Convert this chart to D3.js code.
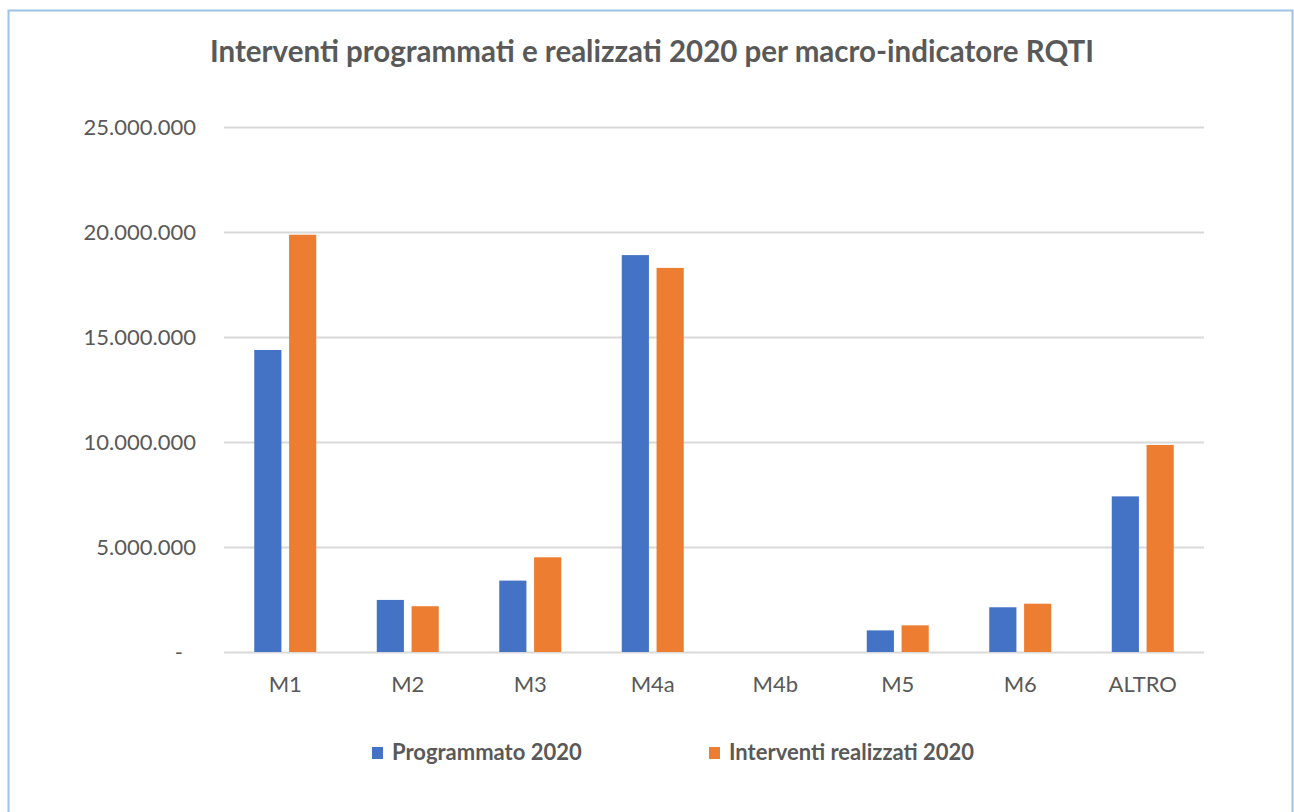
<!DOCTYPE html>
<html>
<head>
<meta charset="utf-8">
<script src="https://cdn.jsdelivr.net/npm/d3@7"></script>
<style>
  html, body { margin: 0; padding: 0; background: #fff; }
  svg { display: block; font-family: Lato, "Noto Sans", sans-serif; }
</style>
</head>
<body>
<div id="chart"></div>
<script>
// data
const categories = ['M1', 'M2', 'M3', 'M4a', 'M4b', 'M5', 'M6', 'ALTRO'];
const programmato = [14380000, 2480000, 3400000, 18900000, 0, 1030000, 2130000, 7410000];
const realizzati = [19870000, 2180000, 4510000, 18290000, 0, 1270000, 2300000, 9860000];
const seriesNames = ['Programmato 2020', 'Interventi realizzati 2020'];
const yTicks = [0, 5000000, 10000000, 15000000, 20000000, 25000000];
const title = 'Interventi programmati e realizzati 2020 per macro-indicatore RQTI';

const colors = ['#4472C4', '#ED7D31'];
const textColor = '#595959';

const width = 1294, height = 812;
const margin = { top: 127, right: 90, bottom: 160, left: 224 };

const svg = d3.select('#chart').append('svg')
  .attr('width', width)
  .attr('height', height);

// outer frame
svg.append('rect')
  .attr('x', 8.5).attr('y', 10.5)
  .attr('width', 1284).attr('height', 840)
  .attr('fill', '#fff')
  .attr('stroke', '#9DC3E6')
  .attr('stroke-width', 2);

const x0 = d3.scaleBand()
  .domain(categories)
  .range([margin.left, width - margin.right])
  .paddingInner(0.494)
  .paddingOuter(0.247);

const x1 = d3.scaleBand()
  .domain([0, 1])
  .range([0, x0.bandwidth()])
  .paddingInner(0.22);

const y = d3.scaleLinear()
  .domain([0, 25000000])
  .range([height - margin.bottom, margin.top]);

const it = d3.formatLocale({ decimal: ',', thousands: '.', grouping: [3], currency: ['€', ''] });
const fmt = d => d === 0 ? '-' : it.format(',d')(d);

// y axis with gridlines
const yAxis = svg.append('g')
  .attr('transform', `translate(${margin.left},0)`)
  .call(d3.axisLeft(y).tickValues(yTicks).tickFormat(fmt)
    .tickSize(-(width - margin.right - margin.left)).tickPadding(28))
  .attr('font-family', null)
  .attr('font-size', null);
yAxis.select('.domain').remove();
yAxis.selectAll('line')
  .attr('stroke', '#D9D9D9')
  .attr('stroke-width', 2);
yAxis.selectAll('text')
  .attr('fill', textColor)
  .style('font-size', '22px')
  .attr('dy', '0.34em')
  .attr('dx', d => d === 0 ? -13 : 0);

// bars
const groups = svg.append('g')
  .selectAll('g')
  .data(categories)
  .join('g')
  .attr('transform', d => `translate(${x0(d)},0)`);

groups.selectAll('rect')
  .data((d, i) => [programmato[i], realizzati[i]])
  .join('rect')
  .attr('x', (d, j) => x1(j))
  .attr('width', x1.bandwidth())
  .attr('y', d => y(d))
  .attr('height', d => y(0) - y(d))
  .attr('fill', (d, j) => colors[j]);

// x axis labels
const xAxis = svg.append('g')
  .attr('transform', `translate(0,${y(0)})`)
  .call(d3.axisBottom(x0).tickSize(0))
  .attr('font-family', null)
  .attr('font-size', null);
xAxis.select('.domain').remove();
xAxis.selectAll('text')
  .attr('fill', textColor)
  .style('font-size', '22px')
  .attr('dy', null)
  .attr('y', 40);

// title
svg.append('text')
  .attr('x', 652)
  .attr('y', 62)
  .attr('text-anchor', 'middle')
  .attr('fill', textColor)
  .style('font-size', '29.5px')
  .style('font-weight', 'bold')
  .text(title);

// legend
const legendX = [372, 709];
const legend = svg.append('g')
  .selectAll('g')
  .data(seriesNames)
  .join('g')
  .attr('transform', (d, i) => `translate(${legendX[i]},747)`);
legend.append('rect')
  .attr('width', 11).attr('height', 12)
  .attr('fill', (d, i) => colors[i]);
legend.append('text')
  .attr('x', 20)
  .attr('y', 13)
  .attr('fill', textColor)
  .style('font-size', '22px')
  .style('font-weight', 'bold')
  .text(d => d);
</script>
</body>
</html>
